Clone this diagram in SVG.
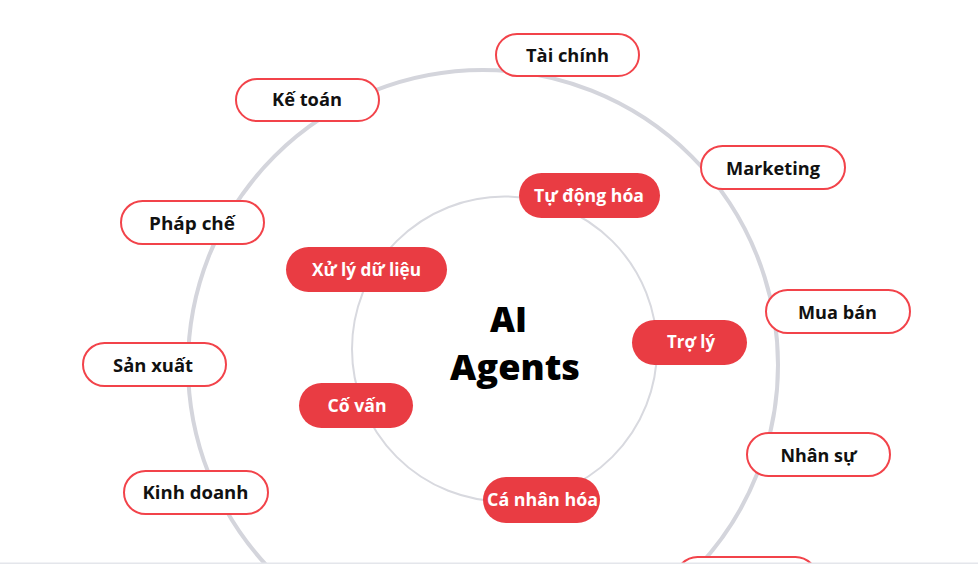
<svg xmlns="http://www.w3.org/2000/svg" width="978" height="566" viewBox="0 0 978 566">
<style>
.ring{fill:none}
.outer rect{fill:#ffffff;stroke:#f2434a;stroke-width:2}
.outer text{font-family:"Open Sans","Liberation Sans",sans-serif;font-weight:700;font-size:17.5px;fill:#111111;text-anchor:middle}
.inner rect{fill:#e93c43;stroke:none}
.inner text{font-family:"Open Sans","Liberation Sans",sans-serif;font-weight:700;font-size:17.5px;fill:#ffffff;text-anchor:middle}
.title{font-family:"Open Sans","Liberation Sans",sans-serif;font-weight:800;font-size:35px;fill:#000000;text-anchor:middle}
</style>
<rect x="0" y="0" width="978" height="566" fill="#ffffff"/>
<g id="connectors">
<circle class="ring" cx="483" cy="365" r="295" stroke="#d4d5dc" stroke-width="4"/>
<circle class="ring" cx="504.5" cy="349" r="152.5" stroke="#d8d9df" stroke-width="2"/>
</g>
<g id="center">
<text class="title" x="508.5" y="332" textLength="37" lengthAdjust="spacingAndGlyphs">AI</text>
<text class="title" x="515" y="380" textLength="130" lengthAdjust="spacingAndGlyphs">Agents</text>
</g>
<g id="tai-chinh" class="outer"><rect x="496" y="34" width="143" height="42" rx="21"/><text x="567.5" y="61.5" textLength="83" lengthAdjust="spacingAndGlyphs">Tài chính</text></g>
<g id="ke-toan" class="outer"><rect x="236" y="79" width="143" height="42" rx="21"/><text x="307" y="106" textLength="70" lengthAdjust="spacingAndGlyphs">Kế toán</text></g>
<g id="marketing" class="outer"><rect x="701" y="146" width="144" height="43" rx="21.5"/><text x="773" y="174.5" textLength="94" lengthAdjust="spacingAndGlyphs">Marketing</text></g>
<g id="phap-che" class="outer"><rect x="121" y="201" width="143" height="43" rx="21.5"/><text x="192" y="229.5" textLength="86" lengthAdjust="spacingAndGlyphs">Pháp chế</text></g>
<g id="mua-ban" class="outer"><rect x="766" y="290" width="144" height="43" rx="21.5"/><text x="837.5" y="318.5" textLength="79" lengthAdjust="spacingAndGlyphs">Mua bán</text></g>
<g id="san-xuat" class="outer"><rect x="83" y="343" width="143" height="43" rx="21.5"/><text x="153" y="371.5" textLength="80" lengthAdjust="spacingAndGlyphs">Sản xuất</text></g>
<g id="nhan-su" class="outer"><rect x="747" y="433" width="143" height="43" rx="21.5"/><text x="818.5" y="461.5" textLength="76" lengthAdjust="spacingAndGlyphs">Nhân sự</text></g>
<g id="kinh-doanh" class="outer"><rect x="124" y="471" width="144" height="43" rx="21.5"/><text x="195.5" y="498.5" textLength="106" lengthAdjust="spacingAndGlyphs">Kinh doanh</text></g>
<g id="bottom-node" class="outer"><rect x="676" y="557" width="141" height="43" rx="21.5"/></g>
<g id="tu-dong-hoa" class="inner"><rect x="519" y="173" width="141" height="45" rx="22.5"/><text x="589" y="201.5" textLength="110" lengthAdjust="spacingAndGlyphs">Tự động hóa</text></g>
<g id="xu-ly-du-lieu" class="inner"><rect x="286" y="247" width="161" height="45" rx="22.5"/><text x="366.5" y="275.5" textLength="109" lengthAdjust="spacingAndGlyphs">Xử lý dữ liệu</text></g>
<g id="tro-ly" class="inner"><rect x="632" y="320" width="115" height="45" rx="22.5"/><text x="691" y="348" textLength="48" lengthAdjust="spacingAndGlyphs">Trợ lý</text></g>
<g id="co-van" class="inner"><rect x="299" y="383" width="114" height="45" rx="22.5"/><text x="357" y="411.5" textLength="59" lengthAdjust="spacingAndGlyphs">Cố vấn</text></g>
<g id="ca-nhan-hoa" class="inner"><rect x="483" y="477" width="117" height="46" rx="23"/><text x="542.5" y="506" textLength="111" lengthAdjust="spacingAndGlyphs">Cá nhân hóa</text></g>
<rect x="0" y="562.5" width="978" height="1.5" fill="#e4e6eb"/>
<rect x="0" y="564" width="978" height="2" fill="#ffffff"/>
</svg>
